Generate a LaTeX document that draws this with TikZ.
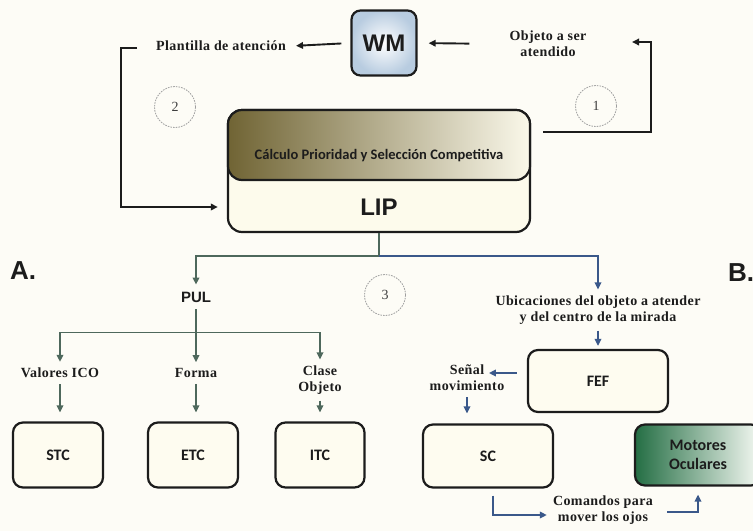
\documentclass[tikz,border=0pt]{standalone}
\usepackage{fontspec}
\setmainfont{Liberation Serif}
\newfontfamily\lblfont[LetterSpace=3]{Liberation Serif}
\newfontfamily\boxfont{Carlito}
\newfontfamily\headfont{Liberation Sans}
\usetikzlibrary{arrows.meta,calc}

\definecolor{paper}{RGB}{253,252,246}
\definecolor{cream}{RGB}{254,252,240}
\definecolor{lipcream}{RGB}{253,251,236}
\definecolor{olivedark}{RGB}{112,100,52}
\definecolor{olivelight}{RGB}{250,248,234}
\definecolor{greendark}{RGB}{36,110,68}
\definecolor{greenlight}{RGB}{246,250,244}
\definecolor{wmblue}{RGB}{184,204,224}
\definecolor{treegreen}{RGB}{78,104,92}
\definecolor{treeblue}{RGB}{58,88,138}
\definecolor{ink}{RGB}{28,28,28}

\tikzset{
  sbox/.style={draw=ink, line width=2.2pt, rounded corners=10pt, fill=cream,
    font=\boxfont\bfseries\fontsize{16}{19}\selectfont, align=center, text=ink},
  lbl/.style={font=\lblfont\bfseries\fontsize{14}{16}\selectfont, align=center,
    text=ink, inner sep=6pt},
  head/.style={font=\headfont\bfseries\fontsize{#1}{#1}\selectfont, text=ink, inner sep=2pt},
  numc/.style={circle, draw=gray!75, dash pattern=on 1.6pt off 1.1pt, line width=0.8pt,
    minimum size=41pt, inner sep=0pt, font=\fontsize{14}{14}\selectfont, text=ink!85},
  tip/.style={-{Triangle[length=7pt,width=6.5pt]}},
  tarr/.style={tip, draw=ink, line width=1.9pt},
  tline/.style={draw=ink, line width=1.9pt},
  garr/.style={tip, draw=treegreen, line width=1.7pt},
  gline/.style={draw=treegreen, line width=1.7pt},
  barr/.style={tip, draw=treeblue, line width=1.7pt},
}

\begin{document}
\begin{tikzpicture}[x=1pt,y=-1pt]
\useasboundingbox (0,0) rectangle (753,531);
\clip (0,0) rectangle (753,531);
\fill[paper] (0,0) rectangle (753,531);

% working memory and its two labels
\node[draw=ink, line width=2.2pt, rounded corners=9pt, inner color=white, outer color=wmblue,
      minimum width=65pt, minimum height=65pt, head=24] (wm) at (384,43) {WM};
\node[lbl] (plan) at (221,46) {Plantilla de atención};
\node[lbl] (obj) at (548,44) {Objeto a ser\\atendido};
\draw[tarr, shorten <=9pt, shorten >=4pt] (wm.west) -- (plan.east);
\draw[tarr, shorten <=34pt, shorten >=11pt] (obj.west) -- (wm.east);

% priority map: outer box with the selection stage on top
\node[draw=ink, line width=2.2pt, rounded corners=14pt, fill=lipcream,
      minimum width=302pt, minimum height=122pt] (lipbox) at (379,171) {};
\node[draw=ink, line width=2.2pt, rounded corners=14pt, left color=olivedark,
      right color=olivelight, minimum width=302pt, minimum height=70pt] (calc) at (379,145) {};
\node[font=\boxfont\bfseries\fontsize{14.5}{16}\selectfont, text=ink] (calctxt) at (379,156)
      {Cálculo Prioridad y Selección Competitiva};
\node[minimum width=302pt, minimum height=50pt, head=24] (lip) at (379,207) {LIP};

% feedback loops
\coordinate (l0) at (137,48);
\draw[tarr, shorten >=10pt] (l0) -- ++(-16,0) |- (lip.west);
\coordinate (r0) at (543,132);
\coordinate (r1) at (651,42);
\draw[tarr] (r0) -| (r1) -- ++(-19,0);

\node[numc] (n2) at (175,107) {2};
\node[numc] (n1) at (596,106) {1};
\node[numc] (n3) at (385,295) {3};

% panel letters
\node[head=26, anchor=west] (pa) at (8,271) {A.};
\node[head=26, anchor=west] (pb) at (726,273) {B.};

% ventral branch
\node[head=15, inner sep=7pt] (pul) at (196,297) {PUL};
\path ($(lipbox.south)+(0,23)$) coordinate (tj);
\draw[gline] (lipbox.south) -- (tj);
\draw[garr] (tj) -| (pul.north);

\node[lbl] (val) at (60,373) {Valores ICO};
\node[lbl] (forma) at (196,373) {Forma};
\node[lbl] (cla) at (320,380) {Clase\\Objeto};
\path ($(pul.south)+(0,23)$) coordinate (pj);
\draw[gline] (pul.south) -- (pj);
\draw[garr] (pj) -| (val.north);
\draw[garr] (pj) -- (forma.north);
\draw[garr] (pj) -| (cla.north);

\node[sbox, minimum width=90pt, minimum height=65pt] (stc) at (58,455) {STC};
\node[sbox, minimum width=90pt, minimum height=65pt] (etc) at (193,455) {ETC};
\node[sbox, minimum width=89pt, minimum height=65pt] (itc) at (320,455) {ITC};
\draw[garr, shorten >=9pt] (val.south) -- (val.south |- stc.north);
\draw[garr, shorten >=9pt] (forma.south) -- (forma.south |- etc.north);
\draw[garr, shorten >=9pt] (cla.south) -- (itc.north);

% oculomotor branch
\node[lbl] (ubic) at (598,310) {Ubicaciones del objeto a atender\\y del centro de la mirada};
\draw[barr] (tj) -| (ubic.north);
\node[sbox, minimum width=140pt, minimum height=62pt] (fef) at (598,381) {FEF};
\draw[barr, shorten >=3pt] (ubic.south) -- (fef.north);

\node[lbl] (senal) at (467,378) {Señal\\movimiento};
\draw[barr] ($(fef.west)+(-10,-8)$) -- ++(-28,0);
\node[sbox, minimum width=130pt, minimum height=63pt] (sc) at (488,456) {SC};
\draw[barr, shorten >=10pt] (senal.south) -- (senal.south |- sc.north);

\node[sbox, left color=greendark, right color=greenlight, minimum width=126pt,
      minimum height=61pt] (mot) at (698,455) {Motores\\Oculares};
\node[lbl] (cmd) at (603,510) {Comandos para\\mover los ojos};
\draw[barr] ($(sc.south)+(5,7)$) |- ($(cmd.west)+(0,5)$);
\draw[barr] ($(cmd.east)+(8,2)$) -| ($(mot.south)+(0,8)$);
\end{tikzpicture}
\end{document}
